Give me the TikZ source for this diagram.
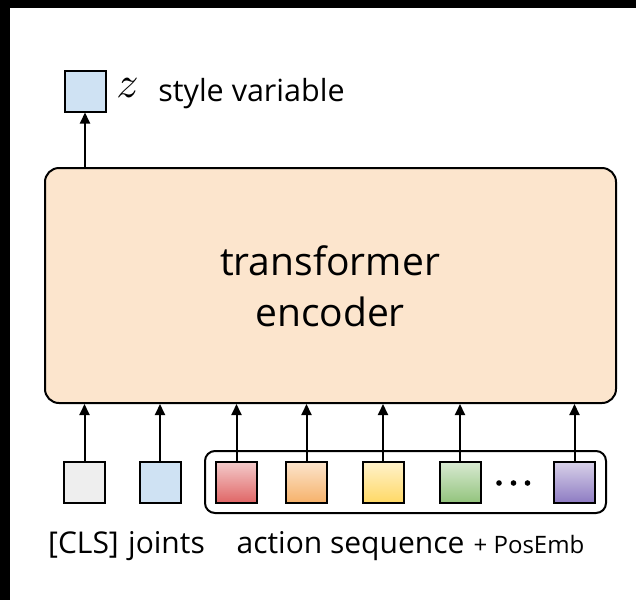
\documentclass[tikz,border=0pt]{standalone}
\usepackage{fontspec}
\setmainfont{Open Sans}
\usetikzlibrary{arrows.meta}
\definecolor{encfill}{HTML}{FCE5CD}
\definecolor{bluefill}{HTML}{CFE2F3}
\definecolor{greyfill}{HTML}{EEEEEE}
\definecolor{redtop}{HTML}{F4CCCC}\definecolor{redbot}{HTML}{E06666}
\definecolor{orgtop}{HTML}{FCE5CD}\definecolor{orgbot}{HTML}{F6B26B}
\definecolor{yeltop}{HTML}{FFF2CC}\definecolor{yelbot}{HTML}{FFD966}
\definecolor{grntop}{HTML}{D9EAD3}\definecolor{grnbot}{HTML}{93C47D}
\definecolor{purtop}{HTML}{D9D2E9}\definecolor{purbot}{HTML}{8E7CC3}
\begin{document}
\begin{tikzpicture}[x=1pt,y=-1pt,
  tok/.style={draw=black,line width=2pt,minimum size=41pt,inner sep=0pt},
  arr/.style={line width=2pt,-{Triangle[length=11pt,width=10pt]}},
  lbl/.style={font=\fontsize{30}{34}\selectfont,anchor=base,inner sep=0pt},
  small/.style={font=\fontsize{24}{28}\selectfont,anchor=base,inner sep=0pt}]
% page frame
\fill[black] (0,0) rectangle (636,600);
\fill[white] (10,8) rectangle (636,600);
\useasboundingbox (0,0) rectangle (636,600);

% encoder block
\node[draw=black,line width=2pt,rounded corners=14pt,fill=encfill,
      minimum width=571pt,minimum height=235pt,inner sep=0pt] (enc) at (330.5,285.5) {};
\node[align=center,font=\fontsize{39}{51}\selectfont] (enctext) at (330,286.5) {transformer\\encoder};

% style variable output
\node[tok,fill=bluefill] (z) at (85,91) {};
\node[anchor=base,inner sep=0pt] (zsym) at (127.5,97) {\scalebox{4.4}{$z$}};
\node[font=\fontsize{30.5}{34}\selectfont,anchor=base,inner sep=0pt] (zlabel) at (251.5,101) {style variable};
\draw[arr] (z.south |- enc.north) -- (z.south);

% action sequence group
\node[draw=black,line width=2pt,rounded corners=10pt,minimum width=401pt,
      minimum height=62pt,inner sep=0pt] (grp) at (405.5,482) {};

% input tokens
\node[tok,fill=greyfill] (cls) at (84.5,482) {};
\node[tok,fill=bluefill] (jnt) at (160,482) {};
\node[tok,top color=redtop,bottom color=redbot] (a1) at (236.5,482) {};
\node[tok,top color=orgtop,bottom color=orgbot] (a2) at (306.5,482) {};
\node[tok,top color=yeltop,bottom color=yelbot] (a3) at (383,482) {};
\node[tok,top color=grntop,bottom color=grnbot] (a4) at (460,482) {};
\node[tok,top color=purtop,bottom color=purbot] (a5) at (574.5,482) {};
% ellipsis between the last two tokens
\foreach \dx in {499,513.5,527.5}
  \fill (\dx,483) circle (2.8pt);

\foreach \t in {cls,jnt,a1,a2,a3,a4,a5}
  \draw[arr] (\t.north) -- (\t.north |- enc.south);

% labels
\node[lbl] (lcls) at (83.5,553) {[CLS]};
\node[lbl] (ljnt) at (166.5,553) {joints};
\node[lbl] (lact) at (350.5,553) {action sequence};
\node[small] (lpos) at (529,553) {+ PosEmb};
\end{tikzpicture}
\end{document}
